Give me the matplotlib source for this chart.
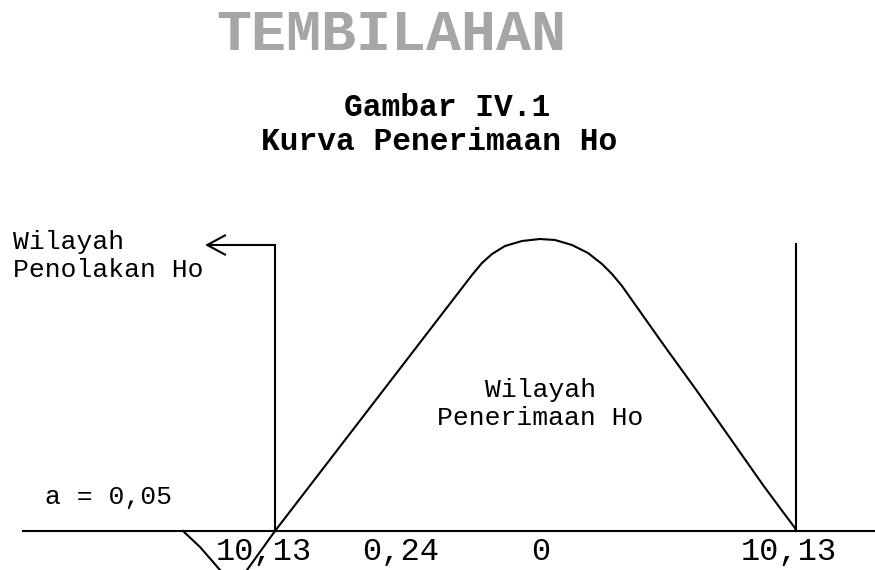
"""
Gambar IV.1 - Kurva Penerimaan Ho
"""
import matplotlib
matplotlib.use('Agg')
import matplotlib.pyplot as plt
from matplotlib.patches import FancyArrowPatch

plt.rcParams['font.family'] = ['Liberation Mono', 'DejaVu Sans Mono']

# kurva (titik, sumbu: 0 = garis dasar)
kurva_x = [275, 462, 472, 482, 492, 505, 522, 540, 555, 572, 588, 602, 612, 622, 663, 697, 730, 763, 783, 795, 796]
kurva_y = [0, 243, 256, 268, 277, 285, 290, 292, 291, 286, 278, 267, 257, 245, 187, 140, 93, 46, 19, 3, 0]

# potongan kurva di bawah garis dasar
ekor_kiri_x = [183, 200, 220]
ekor_kiri_y = [0, -16, -39]
lanjutan_x = [275, 247]
lanjutan_y = [0, -39]

# batas kritis
batas_kiri = 275
batas_kanan = 796
tinggi_batas = 287

# label sumbu
label_sumbu = ['10,13', '0,24', '0', '10,13']
label_x = [264, 401, 541, 789]

fig = plt.figure(figsize=(8.75, 5.7), dpi=100)
ax = fig.add_axes([0, 0, 1, 1])
ax.set_xlim(0, 875)
ax.set_ylim(-39, 531)
ax.axis('off')

lw = 1.5
ax.plot([23, 875], [0, 0], color='black', linewidth=lw)
ax.plot(kurva_x, kurva_y, color='black', linewidth=lw, solid_joinstyle='round')
ax.plot(ekor_kiri_x, ekor_kiri_y, color='black', linewidth=lw)
ax.plot(lanjutan_x, lanjutan_y, color='black', linewidth=lw)
ax.plot([batas_kiri, batas_kiri], [0, tinggi_batas - 1], color='black', linewidth=lw)
ax.plot([batas_kanan, batas_kanan], [0, tinggi_batas], color='black', linewidth=lw)

# panah wilayah penolakan
panah = FancyArrowPatch((batas_kiri, tinggi_batas - 1), (205, tinggi_batas - 1),
                        arrowstyle='->,head_length=13,head_width=7',
                        mutation_scale=1, color='black', linewidth=lw,
                        shrinkA=0, shrinkB=0)
ax.add_patch(panah)

for lbl, x in zip(label_sumbu, label_x):
    ax.text(x, -21, lbl, fontsize=23, ha='center', va='center')

ax.text(13, 289, 'Wilayah', fontsize=19, ha='left', va='center')
ax.text(13, 261, 'Penolakan Ho', fontsize=19, ha='left', va='center')
ax.text(45, 34, 'a = 0,05', fontsize=19, ha='left', va='center')
ax.text(541, 141, 'Wilayah', fontsize=19, ha='center', va='center')
ax.text(540, 113, 'Penerimaan Ho', fontsize=19, ha='center', va='center')

fig.text(391 / 875, 1 - 35 / 570, 'TEMBILAHAN', fontsize=42, fontweight='bold',
         color='#a6a6a6', ha='center', va='center')
fig.text(447 / 875, 1 - 108 / 570, 'Gambar IV.1', fontsize=22.5, fontweight='bold',
         ha='center', va='center')
fig.text(439 / 875, 1 - 142 / 570, 'Kurva Penerimaan Ho', fontsize=22.5, fontweight='bold',
         ha='center', va='center')

plt.savefig('out.png', dpi=100)
